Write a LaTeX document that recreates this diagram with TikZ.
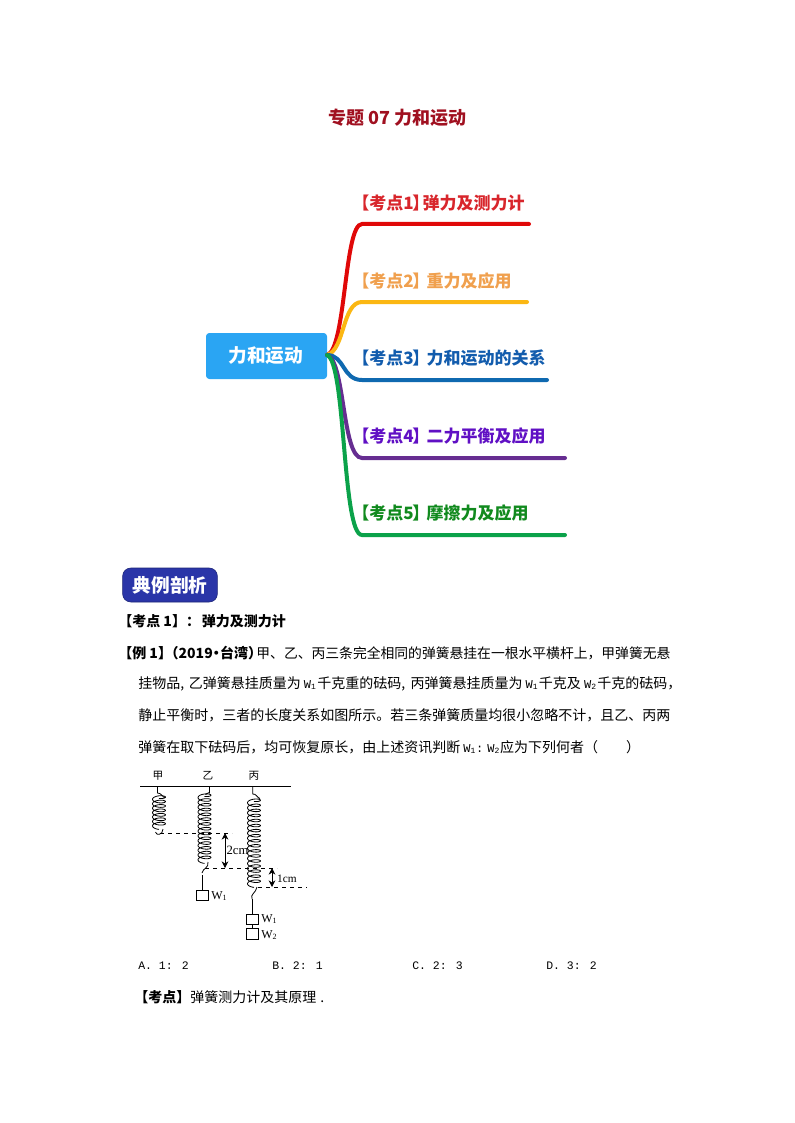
\documentclass[tikz,border=0pt]{standalone}
\usepackage{fontspec}
\setmainfont{Noto Sans CJK SC}
\newfontfamily\monofnt{Liberation Mono}
\newfontfamily\serifnt{Liberation Serif}
\usetikzlibrary{positioning, arrows.meta}
\definecolor{rootblue}{HTML}{2AA5F3}
\definecolor{titlered}{HTML}{A01020}
\definecolor{badgeblue}{HTML}{2A35A8}
\definecolor{brred}{HTML}{E00808}
\definecolor{bryellow}{HTML}{FBB713}
\definecolor{brblue}{HTML}{0F69B0}
\definecolor{brpurple}{HTML}{662D91}
\definecolor{brgreen}{HTML}{0BA24A}
\definecolor{txtred}{HTML}{D8262C}
\definecolor{txtorange}{HTML}{F0A04E}
\definecolor{txtblue}{HTML}{125CAD}
\definecolor{txtpurple}{HTML}{6010C4}
\definecolor{txtgreen}{HTML}{118A1E}
\newcommand*{\dou}{^^^^ff0c}
\newcommand*{\mao}{^^^^ff1a}
\newcommand*{\zuo}{^^^^ff08}
\newcommand*{\you}{^^^^ff09}
\newcommand*{\wsub}[1]{{\fontsize{9}{10}\selectfont\monofnt W\textsubscript{#1}}}
\newcommand*{\kaodian}[1]{【考点#1\kern-1pt 】\kern-2pt }
\newcommand*{\springcoil}[4]{\draw[springline] plot[domain=0:#4*360, samples=#4*24+1, smooth] ({#1+6.5*sin(\x)},{#2+\x/(#4*360)*(#3-#2)+2.4*cos(\x)});}
\tikzset{
 branch/.style={line width=3pt, line cap=round},
 topic/.style={anchor=west, inner sep=0pt, font=\fontsize{12.75}{14}\selectfont\bfseries},
 bodyline/.style={anchor=west, inner sep=0pt, font=\fontsize{10.5}{12}\selectfont},
 choice/.style={anchor=west, inner sep=0pt, font=\fontsize{8.6}{11}\selectfont\monofnt},
 springline/.style={line width=0.6pt},
 weight/.style={draw, line width=0.6pt, minimum width=9pt, minimum height=8pt, inner sep=0pt},
 picnote/.style={inner sep=0pt, font=\fontsize{9}{10}\selectfont\serifnt},
 cut/.style={dashed, line width=0.5pt}
}
\begin{document}
\begin{tikzpicture}[x=0.75pt, y=-0.75pt, >={Stealth[length=5pt, width=5pt]}]
 \useasboundingbox (0,0) rectangle (794,1123);
 \node (title) [inner sep=0pt, text=titlered, font=\fontsize{13.5}{16}\selectfont\bfseries] at (397.5,117.5) {专题 07 力和运动};
 % mind map
 \node (root) [fill=rootblue, rounded corners=2.5pt, minimum width=90.75pt, minimum height=34.5pt, inner sep=0pt, text=white, font=\fontsize{14}{15}\selectfont\bfseries] at (266.5,356) {\raisebox{-1.2pt}{\kern-1pt 力和运动}};
 \coordinate (hub) at (327,355);
 \draw[branch, brred] (hub) .. controls (346,350) and (344,224) .. (362,224) -- (529,224) coordinate (r1);
 \draw[branch, bryellow] (hub) .. controls (345,350) and (342,302) .. (362,302) -- (527,302) coordinate (r2);
 \draw[branch, brblue] (hub) .. controls (345,355) and (342,380) .. (362,380) -- (547,380) coordinate (r3);
 \draw[branch, brpurple] (hub) .. controls (345,360) and (342,458) .. (362,458) -- (565,458) coordinate (r4);
 \draw[branch, brgreen] (hub) .. controls (346,362) and (342,535) .. (362,535) -- (565,535) coordinate (r5);
 \node (t1) [topic, text=txtred] at (352,203) {\kaodian{1}\kern-3pt 弹力及测力计};
 \node (t2) [topic, text=txtorange] at (352,281) {\kaodian{2}重力及应用};
 \node (t3) [topic, text=txtblue] at (352,358) {\kaodian{3}力和运动的关系};
 \node (t4) [topic, text=txtpurple] at (352,436) {\kaodian{4}二力平衡及应用};
 \node (t5) [topic, text=txtgreen] at (352,513) {\kaodian{5}摩擦力及应用};
 % text block
 \node (badge) [fill=badgeblue, draw=badgeblue!70!black, rounded corners=6pt, minimum width=71pt, minimum height=25.5pt, inner sep=0pt, text=white, font=\fontsize{14}{17}\selectfont\bfseries] at (170,585) {典例剖析};
 \node (kd) [bodyline, font=\fontsize{10.5}{12}\selectfont\bfseries] at (118,621) {【考点 1】\mao{}\kern1.5pt 弹力及测力计};
 \node (l1) [bodyline] at (118,653) {\textbf{【例 1】\kern-5.5pt \zuo{}2019\kern-2.5pt •\kern-2.5pt 台湾\you{}\kern-4.25pt }{\fontsize{10.35}{12}\selectfont 甲、乙、丙三条完全相同的弹簧悬挂在一根水平横杆上\dou{}甲弹簧无悬}};
 \node (l2) [bodyline] at (138,684) {挂物品,\kern3.5pt 乙弹簧悬挂质量为 \wsub{1}\kern0.5pt 千克重的砝码,\kern4pt 丙弹簧悬挂质量为 \wsub{1}\kern0.5pt 千克及 \wsub{2}\kern0.5pt 千克的砝码\dou{}};
 \node (l3) [bodyline] at (138,715) {静止平衡时\dou{}三者的长度关系如图所示。若三条弹簧质量均很小忽略不计\dou{}且乙、丙两};
 \node (l4) [bodyline] at (138,747) {弹簧在取下砝码后\dou{}均可恢复原长\dou{}由上述资讯判断 \wsub{1}{\fontsize{9}{10}\selectfont\monofnt:} \wsub{2}应为下列何者\zuo{}\hspace{2em}\you{}};
 % springs
 \coordinate (barl) at (140,786);
 \coordinate (barr) at (291,786);
 \draw[line width=0.6pt] (barl) -- (barr);
 \node (jia) [picnote, font=\fontsize{8}{9}\selectfont] at (158,776) {甲};
 \node (yi) [picnote, font=\fontsize{8}{9}\selectfont] at (208,776) {乙};
 \node (bing) [picnote, font=\fontsize{8}{9}\selectfont] at (254,776) {丙};
 \draw[springline] (157.5,786) -- (157.5,793) to[out=20, in=-90] (165,797);
 \springcoil{159}{796}{827}{7}
 \draw[springline] (163,829) .. controls (163,835) and (156,836) .. (155.5,832);
 \draw[springline] (209.5,786) -- (209.5,793) to[out=120, in=-60] (205,794);
 \springcoil{204.5}{794}{861}{14}
 \draw[springline] (208,862) .. controls (209,868) and (203,868) .. (202,873);
 \coordinate (hook2) at (202,875);
 \draw[springline] (252.7,786) -- (252.7,794) to[out=30, in=-90] (260,798);
 \springcoil{254}{799}{885}{17}
 \draw[springline] (257,887) .. controls (256,893) and (250,894) .. (252,899);
 \coordinate (hook3) at (252,899);
 \node (box1) [weight] at (202,895.5) {};
 \node (box2) [weight] at (252,919.5) {};
 \node (box3) [weight] at (252,934) {};
 \draw[springline] (hook2) -- (box1.north);
 \draw[springline] (hook3) -- (box2.north);
 \draw[springline] (box2.south) -- (box3.north);
 \node (wa) [picnote, anchor=west] at (211,896) {W\textsubscript{1}};
 \node (wb) [picnote, anchor=west] at (261,919) {W\textsubscript{1}};
 \node (wc) [picnote, anchor=west] at (261,935) {W\textsubscript{2}};
 \coordinate (ca) at (160,833);
 \coordinate (cb) at (232,833);
 \coordinate (cc) at (205,868);
 \coordinate (cd) at (277,868);
 \coordinate (ce) at (258,887);
 \coordinate (cf) at (307,887);
 \draw[cut] (ca) -- (cb);
 \draw[cut] (cc) -- (cd);
 \draw[cut] (ce) -- (cf);
 \coordinate (aa) at (225,833);
 \coordinate (ab) at (225,868);
 \coordinate (ac) at (272,868);
 \coordinate (ad) at (272,887);
 \draw[<->, line width=0.7pt] (aa) -- (ab);
 \draw[<->, line width=0.7pt] (ac) -- (ad);
 \node (twocm) [picnote, font=\fontsize{9.5}{10}\selectfont\serifnt] at (237.5,850) {2cm};
 \node (onecm) [picnote, font=\fontsize{8.5}{10}\selectfont\serifnt] at (287,879) {1cm};
 % choices
 \node (ca1) [choice] at (138,966) {A. 1: 2};
 \node (ca2) [choice] at (272,966) {B. 2: 1};
 \node (ca3) [choice] at (412,966) {C. 2: 3};
 \node (ca4) [choice] at (546,966) {D. 3: 2};
 \node (kp) [bodyline] at (134,997) {\textbf{【考点】}弹簧测力计及其原理\kern3pt .};
\end{tikzpicture}
\end{document}
